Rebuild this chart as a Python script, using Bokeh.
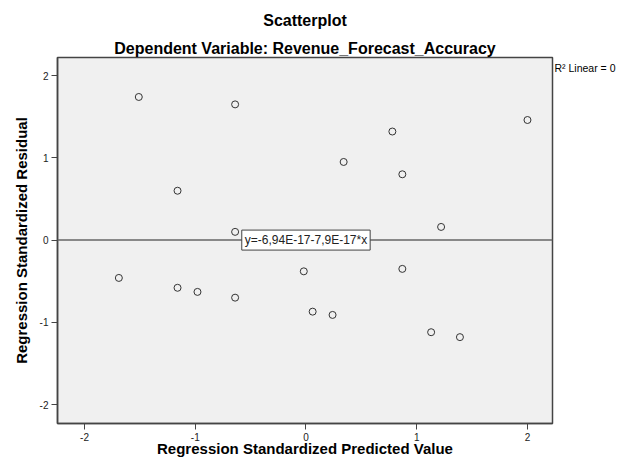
from bokeh.plotting import figure
from bokeh.models import Label, Span, FixedTicker, Title, LinearAxis
from bokeh.embed import file_html
from bokeh.resources import INLINE

pred = [-1.51, -0.64, -1.16, -0.64, -1.69, -1.16, -0.98, -0.64, -0.02, 0.06,
        0.24, 0.34, 0.78, 0.87, 0.87, 1.22, 1.13, 1.39, 2.00]
resid = [1.74, 1.65, 0.60, 0.10, -0.46, -0.58, -0.63, -0.70, -0.38, -0.87,
         -0.91, 0.95, 1.32, 0.80, -0.35, 0.16, -1.12, -1.18, 1.46]
ticks = [-2, -1, 0, 1, 2]
tick_labels = ["-2", "-1", "0", "1", "2"]
title_text = "Scatterplot"
subtitle_text = "Dependent Variable: Revenue_Forecast_Accuracy"
xlabel = "Regression Standardized Predicted Value"
ylabel = "Regression Standardized Residual"
fit_text = "y=-6,94E-17-7,9E-17*x"
r2_text = "R\u00b2 Linear = 0"
r2_pos = 2.09

FONT = "Liberation Sans"
x0, x1 = -2.244, 2.226
y0, y1 = -2.23, 2.22

p = figure(width=628, height=470, x_range=(x0, x1), y_range=(y0, y1),
           output_backend="svg", toolbar_location=None,
           min_border_left=57, min_border_right=76, min_border_top=57,
           min_border_bottom=47)
p.background_fill_color = "#f0f0f0"
p.border_fill_color = "white"
p.outline_line_color = "#444444"
p.outline_line_width = 1.5
p.grid.visible = False

for ax in (p.xaxis, p.yaxis):
    ax.ticker = FixedTicker(ticks=ticks)
    ax.major_label_overrides = dict(zip(ticks, tick_labels))
    ax.minor_tick_line_color = None
    ax.major_tick_out = 6
    ax.major_tick_in = 0
    ax.axis_line_color = "#444444"
    ax.axis_line_width = 1.5
    ax.major_tick_line_color = "#444444"
    ax.major_label_text_font = FONT
    ax.major_label_text_font_size = "10px"
    ax.major_label_text_color = "#222222"
    ax.axis_label_text_font = FONT
    ax.axis_label_text_font_size = "15px"
    ax.axis_label_text_font_style = "bold"
    ax.axis_label_text_color = "black"

p.xaxis.axis_label = xlabel
p.yaxis.axis_label = ylabel
p.xaxis.major_label_standoff = 3
p.yaxis.major_label_standoff = 3
p.xaxis.axis_label_standoff = -4
p.yaxis.axis_label_standoff = 7

# R² annotation placed beside the frame via an unlined right axis
r_ax = LinearAxis(ticker=FixedTicker(ticks=[r2_pos]),
                  major_label_overrides={r2_pos: r2_text})
r_ax.axis_line_color = None
r_ax.major_tick_line_color = None
r_ax.minor_tick_line_color = None
r_ax.major_tick_out = 0
r_ax.major_tick_in = 0
r_ax.major_label_standoff = 2
r_ax.major_label_text_font = FONT
r_ax.major_label_text_font_size = "10.5px"
r_ax.major_label_text_color = "black"
p.add_layout(r_ax, "right")

p.add_layout(Span(location=0, dimension="width", line_color="#666666",
                  line_width=1.5))

p.scatter(pred, resid, size=7, marker="circle", fill_color=None,
          line_color="#333333", line_width=1)

p.add_layout(Label(x=-0.58, y=0, text=fit_text, text_baseline="middle",
                   text_font=FONT, text_font_size="12px", text_color="#222222",
                   background_fill_color="white", border_line_color="#444444",
                   border_line_width=1, padding=3))

p.add_layout(Title(text=subtitle_text, align="center", text_font=FONT,
                   text_font_size="16px", text_font_style="bold",
                   text_color="black", standoff=2), "above")
p.add_layout(Title(text=title_text, align="center", text_font=FONT,
                   text_font_size="16px", text_font_style="bold",
                   text_color="black", standoff=16), "above")

open("out.html", "w").write(file_html(p, INLINE))
